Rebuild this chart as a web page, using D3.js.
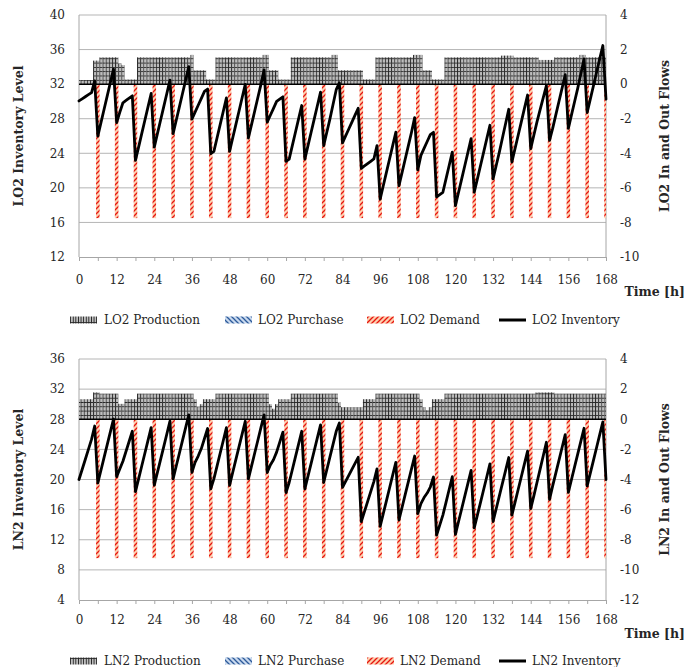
<!DOCTYPE html>
<html>
<head>
<meta charset="utf-8">
<script src="https://cdn.jsdelivr.net/npm/d3@7"></script>
<style>
  body { margin: 0; background: #fff; }
  svg text { font-family: "DejaVu Serif", serif; fill: #262626; }
</style>
</head>
<body>
<svg id="chart" width="686" height="667"></svg>
<script>
// ---- data (hour index = position in the array, 0..168) ----
const timeLabels = [0, 12, 24, 36, 48, 60, 72, 84, 96, 108, 120, 132, 144, 156, 168]
const demandHours = [6, 12, 18, 24, 30, 36, 42, 48, 54, 60, 66, 72, 78, 84, 90, 96, 102, 108, 114, 120, 126, 132, 138, 144, 150, 156, 162, 168]

const lo2LeftTicks = [12, 16, 20, 24, 28, 32, 36, 40]
const lo2RightTicks = [-10, -8, -6, -4, -2, 0, 2, 4]
const ln2LeftTicks = [4, 8, 12, 16, 20, 24, 28, 32, 36]
const ln2RightTicks = [-12, -10, -8, -6, -4, -2, 0, 2, 4]

const lo2Production = [
  0.24, 0.24, 0.24, 0.24, 0.24, 1.36, 1.36, 1.55, 1.55, 1.55, 1.55, 1.55,
  1.55, 1.2, 1.1, 0.27, 0.27, 0.27, 0.27, 1.55, 1.55, 1.55, 1.55, 1.55,
  1.55, 1.55, 1.55, 1.55, 1.55, 1.55, 1.55, 1.55, 1.55, 1.55, 1.55, 1.55,
  1.69, 0.8, 0.8, 0.8, 0.8, 0.27, 0.27, 0.27, 1.55, 1.55, 1.55, 1.55,
  1.55, 1.55, 1.55, 1.55, 1.55, 1.55, 1.55, 1.55, 1.55, 1.55, 1.55, 1.69,
  1.69, 0.8, 0.8, 0.8, 0.27, 0.27, 0.27, 0.27, 1.55, 1.55, 1.55, 1.55,
  1.55, 1.55, 1.55, 1.55, 1.55, 1.55, 1.55, 1.55, 1.55, 1.69, 1.69, 0.8,
  0.8, 0.8, 0.8, 0.8, 0.8, 0.8, 0.8, 0.27, 0.27, 0.27, 0.27, 1.55,
  1.55, 1.55, 1.55, 1.55, 1.55, 1.55, 1.55, 1.55, 1.55, 1.55, 1.55, 1.69,
  1.69, 1.69, 0.8, 0.8, 0.8, 0.27, 0.27, 0.27, 0.27, 1.55, 1.55, 1.55,
  1.55, 1.55, 1.55, 1.55, 1.55, 1.55, 1.55, 1.55, 1.55, 1.55, 1.55, 1.55,
  1.55, 1.55, 1.55, 1.65, 1.65, 1.65, 1.65, 1.55, 1.55, 1.55, 1.55, 1.55,
  1.55, 1.55, 1.55, 1.4, 1.4, 1.4, 1.4, 1.4, 1.55, 1.55, 1.55, 1.55,
  1.55, 1.55, 1.55, 1.55, 1.69, 1.69, 1.55, 1.55, 1.55, 1.55, 1.55, 1.55,
  1.55
]
const lo2Purchase = []   // no purchases in the horizon
const lo2Demand = [
  -7.75, -7.75, -7.75, -7.75, -7.75, -7.75, -7.75, -7.75, -7.75, -7.75, -7.75, -7.75, -7.75, -7.75,
  -7.75, -7.75, -7.75, -7.75, -7.75, -7.75, -7.75, -7.75, -7.75, -7.75, -7.75, -7.75, -7.75, -7.75
]
const lo2Inventory = [
  30.06, 30.30, 30.54, 30.78, 31.02, 32.38, 25.99, 27.54, 29.09, 30.64, 32.19, 33.74,
  27.54, 28.74, 29.84, 30.11, 30.38, 30.65, 23.17, 24.72, 26.27, 27.82, 29.37, 30.92,
  24.72, 26.27, 27.82, 29.37, 30.92, 32.47, 26.27, 27.82, 29.37, 30.92, 32.47, 34.02,
  27.96, 28.76, 29.56, 30.36, 31.16, 31.43, 23.95, 24.22, 25.77, 27.32, 28.87, 30.42,
  24.22, 25.77, 27.32, 28.87, 30.42, 31.97, 25.77, 27.32, 28.87, 30.42, 31.97, 33.66,
  27.60, 28.40, 29.20, 30.00, 30.27, 30.54, 23.06, 23.33, 24.88, 26.43, 27.98, 29.53,
  23.33, 24.88, 26.43, 27.98, 29.53, 31.08, 24.88, 26.43, 27.98, 29.67, 31.36, 32.16,
  25.21, 26.01, 26.81, 27.61, 28.41, 29.21, 22.26, 22.53, 22.80, 23.07, 23.34, 24.89,
  18.69, 20.24, 21.79, 23.34, 24.89, 26.44, 20.24, 21.79, 23.34, 24.89, 26.44, 28.13,
  22.07, 23.76, 24.56, 25.36, 26.16, 26.43, 18.95, 19.22, 19.49, 21.04, 22.59, 24.14,
  17.94, 19.49, 21.04, 22.59, 24.14, 25.69, 19.49, 21.04, 22.59, 24.14, 25.69, 27.24,
  21.04, 22.59, 24.14, 25.79, 27.44, 29.09, 22.99, 24.54, 26.09, 27.64, 29.19, 30.74,
  24.54, 26.09, 27.64, 29.04, 30.44, 31.84, 25.49, 26.89, 28.44, 29.99, 31.54, 33.09,
  26.89, 28.44, 29.99, 31.54, 33.23, 34.92, 28.72, 30.27, 31.82, 33.37, 34.92, 36.47,
  30.27
]

const ln2Production = [
  1.33, 1.33, 1.33, 1.33, 1.33, 1.78, 1.78, 1.70, 1.70, 1.70, 1.70, 1.70,
  1.70, 1.02, 1.02, 1.33, 1.33, 1.33, 1.33, 1.70, 1.70, 1.70, 1.70, 1.70,
  1.70, 1.70, 1.70, 1.70, 1.70, 1.70, 1.70, 1.70, 1.70, 1.70, 1.70, 1.70,
  1.70, 1.33, 0.84, 1.00, 1.33, 1.33, 1.33, 1.33, 1.70, 1.70, 1.70, 1.70,
  1.70, 1.70, 1.70, 1.70, 1.70, 1.70, 1.70, 1.70, 1.70, 1.70, 1.70, 1.70,
  1.70, 1.00, 0.70, 1.00, 1.33, 1.33, 1.33, 1.33, 1.70, 1.70, 1.70, 1.70,
  1.70, 1.70, 1.70, 1.70, 1.70, 1.70, 1.70, 1.70, 1.70, 1.70, 1.70, 1.10,
  0.80, 0.80, 0.80, 0.80, 0.80, 0.80, 0.80, 1.33, 1.33, 1.33, 1.33, 1.70,
  1.70, 1.70, 1.70, 1.70, 1.70, 1.70, 1.70, 1.70, 1.70, 1.70, 1.70, 1.70,
  1.70, 1.33, 0.80, 0.60, 0.80, 1.33, 1.33, 1.33, 1.33, 1.70, 1.70, 1.70,
  1.70, 1.70, 1.70, 1.70, 1.70, 1.70, 1.70, 1.70, 1.70, 1.70, 1.70, 1.70,
  1.70, 1.70, 1.70, 1.70, 1.70, 1.70, 1.70, 1.70, 1.70, 1.70, 1.70, 1.70,
  1.70, 1.70, 1.78, 1.78, 1.78, 1.78, 1.78, 1.78, 1.70, 1.70, 1.70, 1.70,
  1.70, 1.70, 1.70, 1.70, 1.70, 1.70, 1.70, 1.70, 1.70, 1.70, 1.70, 1.70,
  1.70
]
const ln2Purchase = []   // no purchases in the horizon
const ln2Demand = [
  -9.22, -9.22, -9.22, -9.22, -9.22, -9.22, -9.22, -9.22, -9.22, -9.22, -9.22, -9.22, -9.22, -9.22,
  -9.22, -9.22, -9.22, -9.22, -9.22, -9.22, -9.22, -9.22, -9.22, -9.22, -9.22, -9.22, -9.22, -9.22
]
const ln2Inventory = [
  20.00, 21.33, 22.66, 23.99, 25.32, 27.10, 19.53, 21.23, 22.93, 24.63, 26.33, 28.03,
  20.38, 21.40, 22.42, 23.75, 25.08, 26.41, 18.39, 20.09, 21.79, 23.49, 25.19, 26.89,
  19.24, 20.94, 22.64, 24.34, 26.04, 27.74, 20.09, 21.79, 23.49, 25.19, 26.89, 28.59,
  20.94, 22.27, 23.11, 24.11, 25.44, 26.77, 18.75, 20.08, 21.78, 23.48, 25.18, 26.88,
  19.23, 20.93, 22.63, 24.33, 26.03, 27.73, 20.08, 21.78, 23.48, 25.18, 26.88, 28.58,
  20.93, 21.93, 22.63, 23.63, 24.96, 26.29, 18.27, 19.60, 21.30, 23.00, 24.70, 26.40,
  18.75, 20.45, 22.15, 23.85, 25.55, 27.25, 19.60, 21.30, 23.00, 24.70, 26.40, 27.50,
  18.95, 19.75, 20.55, 21.35, 22.15, 22.95, 14.40, 15.73, 17.06, 18.39, 19.72, 21.42,
  13.77, 15.47, 17.17, 18.87, 20.57, 22.27, 14.62, 16.32, 18.02, 19.72, 21.42, 23.12,
  15.47, 16.80, 17.60, 18.20, 19.00, 20.33, 12.61, 13.94, 15.27, 16.97, 18.67, 20.37,
  12.72, 14.42, 16.12, 17.82, 19.52, 21.22, 13.57, 15.27, 16.97, 18.67, 20.37, 22.07,
  14.42, 16.12, 17.82, 19.52, 21.22, 22.92, 15.27, 16.97, 18.67, 20.37, 22.07, 23.77,
  16.12, 17.82, 19.60, 21.38, 23.16, 24.94, 17.37, 19.15, 20.85, 22.55, 24.25, 25.95,
  18.30, 20.00, 21.70, 23.40, 25.10, 26.80, 19.15, 20.85, 22.55, 24.25, 25.95, 27.65,
  20.00
]

const lo2Names = ['LO2 Production', 'LO2 Purchase', 'LO2 Demand', 'LO2 Inventory']
const ln2Names = ['LN2 Production', 'LN2 Purchase', 'LN2 Demand', 'LN2 Inventory']

// ---- layout ----
const X0 = 79, X1 = 606
const svg = d3.select('#chart')
const defs = svg.append('defs')

const x = d3.scaleLinear().domain([0, 168]).range([X0, X1])
const step = x(1) - x(0)

// grid / hatch fills standing in for the Excel pattern fills
function gridPattern (id, px, py, w, h) {
  const p = defs.append('pattern').attr('id', id).attr('patternUnits', 'userSpaceOnUse')
    .attr('x', px).attr('y', py).attr('width', w).attr('height', h)
  p.append('rect').attr('width', w).attr('height', h).attr('fill', '#bdbdbd')
  p.append('line').attr('x1', 0.4).attr('x2', 0.4).attr('y1', 0).attr('y2', h).attr('stroke', '#1a1a1a').attr('stroke-width', 0.9)
  p.append('line').attr('x1', 0).attr('x2', w).attr('y1', 0.4).attr('y2', 0.4).attr('stroke', '#262626').attr('stroke-width', 0.9)
}
function hatchPattern (id, bg, fg, dir) {
  const p = defs.append('pattern').attr('id', id).attr('patternUnits', 'userSpaceOnUse')
    .attr('width', 5).attr('height', 5)
  p.append('rect').attr('width', 5).attr('height', 5).attr('fill', bg)
  const d = dir > 0 ? 'M-1,1 l2,-2 M0,5 l5,-5 M4,6 l2,-2' : 'M-1,4 l2,2 M0,0 l5,5 M4,-1 l2,2'
  p.append('path').attr('d', d).attr('stroke', fg).attr('stroke-width', 1.3)
}
hatchPattern('demandFill', '#fccfae', '#e8150f', 1)
hatchPattern('purchaseFill', '#c9d9ee', '#2d5a9a', -1)
gridPattern('prodLegend', 0, 0, 2.6, 7)

const panels = [
  { id: 'lo2', y0: 15, y1: 257, left: [12, 40], right: [-10, 4], leftTicks: lo2LeftTicks, rightTicks: lo2RightTicks,
    production: lo2Production, purchase: lo2Purchase, demand: lo2Demand, inventory: lo2Inventory,
    leftTitle: 'LO2 Inventory Level', rightTitle: 'LO2 In and Out Flows', pad: 14, timeY: 296, legendY: 320, names: lo2Names },
  { id: 'ln2', y0: 359, y1: 600, left: [4, 36], right: [-12, 4], leftTicks: ln2LeftTicks, rightTicks: ln2RightTicks,
    production: ln2Production, purchase: ln2Purchase, demand: ln2Demand, inventory: ln2Inventory,
    leftTitle: 'LN2 Inventory Level', rightTitle: 'LN2 In and Out Flows', pad: 11, timeY: 638, legendY: 661, names: ln2Names }
]

panels.forEach(p => {
  const yL = d3.scaleLinear().domain(p.left).range([p.y1, p.y0])
  const yR = d3.scaleLinear().domain(p.right).range([p.y1, p.y0])
  const zeroY = yR(0)
  const g = svg.append('g')

  defs.append('clipPath').attr('id', 'clip-' + p.id)
    .append('rect').attr('x', X0).attr('y', p.y0).attr('width', X1 - X0).attr('height', p.y1 - p.y0)
  gridPattern('prod-' + p.id, X0 - step / 2, zeroY, step, 4.3)

  // gridlines
  g.append('g').selectAll('line').data(p.leftTicks.filter(t => t !== p.left[0])).join('line')
    .attr('x1', X0).attr('x2', X1).attr('y1', d => yL(d)).attr('y2', d => yL(d))
    .attr('stroke', '#b5b5b5').attr('stroke-width', 1)
  g.append('line').attr('x1', X0).attr('x2', X0).attr('y1', p.y0).attr('y2', p.y1).attr('stroke', '#a6a6a6')
  g.append('line').attr('x1', X1).attr('x2', X1).attr('y1', p.y0).attr('y2', p.y1).attr('stroke', '#a6a6a6')

  const bars = g.append('g').attr('clip-path', `url(#clip-${p.id})`)
  bars.selectAll('rect.prod').data(p.production).join('rect').attr('class', 'prod')
    .attr('x', (d, i) => x(i) - step / 2).attr('width', step + 0.05)
    .attr('y', d => yR(d)).attr('height', d => zeroY - yR(d))
    .attr('fill', `url(#prod-${p.id})`)
  bars.selectAll('rect.purch').data(p.purchase).join('rect').attr('class', 'purch')
    .attr('x', d => x(d[0]) - step / 2).attr('width', step)
    .attr('y', d => yR(d[1])).attr('height', d => zeroY - yR(d[1]))
    .attr('fill', 'url(#purchaseFill)')
  bars.selectAll('rect.dem').data(p.demand).join('rect').attr('class', 'dem')
    .attr('x', (d, i) => x(demandHours[i]) - step / 2 - 0.2).attr('width', step + 0.4)
    .attr('y', zeroY).attr('height', d => yR(d) - zeroY)
    .attr('fill', 'url(#demandFill)')

  // zero line of the flow axis
  g.append('line').attr('x1', X0).attr('x2', X1).attr('y1', zeroY).attr('y2', zeroY)
    .attr('stroke', '#000').attr('stroke-width', 1.5)

  // inventory line
  g.append('path').datum(p.inventory)
    .attr('d', d3.line().x((d, i) => x(i)).y(d => yL(d)))
    .attr('fill', 'none').attr('stroke', '#000').attr('stroke-width', 2.8)
    .attr('stroke-linejoin', 'round').attr('stroke-linecap', 'round')

  // axes
  const xa = g.append('g').attr('transform', `translate(0,${p.y1})`)
    .call(d3.axisBottom(x).tickValues(d3.range(0, 169, 6)).tickSizeInner(4).tickSizeOuter(0)
      .tickPadding(p.pad).tickFormat(d => timeLabels.includes(d) ? d : ''))
  xa.select('.domain').attr('stroke', '#a6a6a6')
  xa.selectAll('.tick line').attr('stroke', '#a6a6a6')
  xa.selectAll('text').attr('font-size', 12)

  const la = g.append('g').attr('transform', `translate(${X0},0)`)
    .call(d3.axisLeft(yL).tickValues(p.leftTicks).tickSize(0).tickPadding(14).tickFormat(d => String(d)))
  la.select('.domain').remove()
  la.selectAll('text').attr('font-size', 12)

  const ra = g.append('g').attr('transform', `translate(${X1},0)`)
    .call(d3.axisRight(yR).tickValues(p.rightTicks).tickSize(0).tickPadding(14).tickFormat(d => String(d)))
  ra.select('.domain').remove()
  ra.selectAll('text').attr('font-size', 12)
  g.selectAll('.tick text').attr('font-family', '"DejaVu Serif", serif').attr('fill', '#262626')

  // titles
  const cy = (p.y0 + p.y1) / 2
  g.append('text').attr('transform', `translate(19,${cy}) rotate(-90)`).attr('text-anchor', 'middle')
    .attr('dy', '0.35em').attr('font-size', 12.5).attr('font-weight', 'bold').text(p.leftTitle)
  g.append('text').attr('transform', `translate(665,${cy}) rotate(-90)`).attr('text-anchor', 'middle')
    .attr('dy', '0.35em').attr('font-size', 12.5).attr('font-weight', 'bold').text(p.rightTitle)
  g.append('text').attr('x', 685).attr('y', p.timeY).attr('text-anchor', 'end')
    .attr('font-size', 12.5).attr('font-weight', 'bold').text('Time [h]')

  // legend
  const lx = [[70, 104], [225, 258], [367, 400], [499, 532]]
  const fills = ['url(#prodLegend)', 'url(#purchaseFill)', 'url(#demandFill)', null]
  const lg = g.append('g')
  p.names.forEach((name, i) => {
    if (fills[i]) {
      lg.append('rect').attr('x', lx[i][0]).attr('y', p.legendY - 3.5).attr('width', 27).attr('height', 7).attr('fill', fills[i])
    } else {
      lg.append('line').attr('x1', lx[i][0]).attr('x2', lx[i][0] + 27).attr('y1', p.legendY).attr('y2', p.legendY)
        .attr('stroke', '#000').attr('stroke-width', 3)
    }
    lg.append('text').attr('x', lx[i][1]).attr('y', p.legendY).attr('dy', '0.35em').attr('font-size', 12).text(name)
  })
})
</script>
</body>
</html>
